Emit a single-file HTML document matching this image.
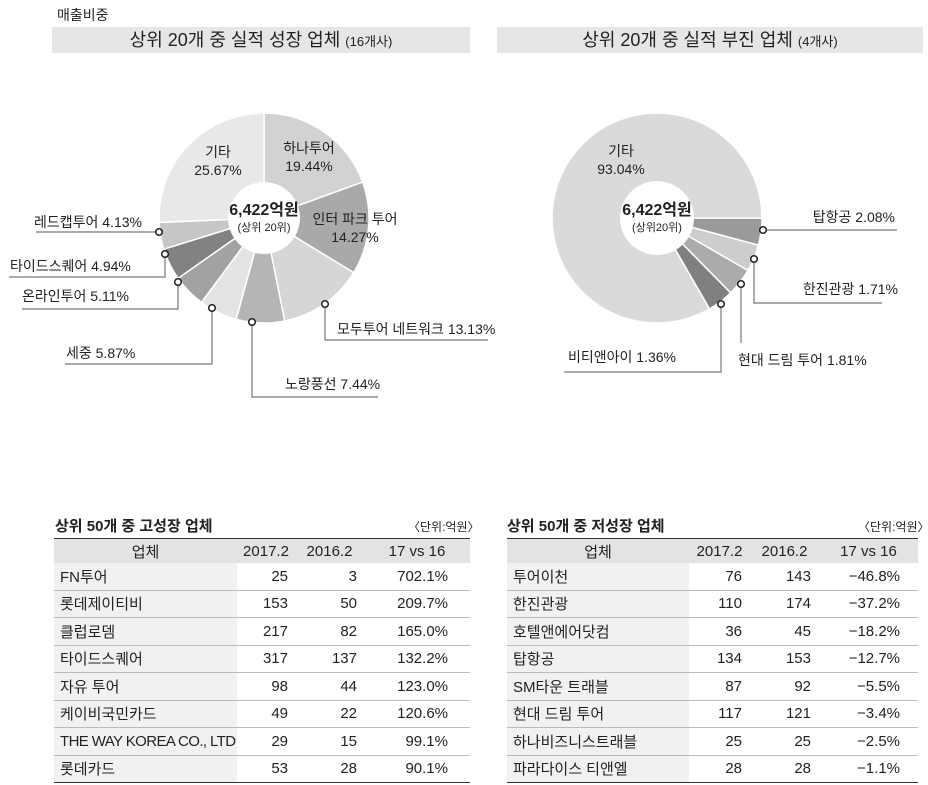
<!DOCTYPE html>
<html><head><meta charset="utf-8">
<style>
body{margin:0;width:928px;height:785px;background:#fff;font-family:"Liberation Sans","Noto Sans CJK KR",sans-serif;color:#222;position:relative;overflow:hidden}
.a{position:absolute;white-space:nowrap}
.bar{position:absolute;background:#e6e6e6;height:26px;top:27px;text-align:center;font-size:18px;line-height:26px;color:#222}
.bar small{font-size:13px}
table{position:absolute;border-collapse:collapse;font-size:15px;top:538px;table-layout:fixed}
td{height:26.5px;padding:0;border-bottom:1px solid #bbb;text-align:right;white-space:nowrap;overflow:visible}
tr.h td{background:#e3e3e3;text-align:center;height:24px;border-top:1.5px solid #333;border-bottom:none}
tr.last td{border-bottom:1.5px solid #333}
td.n{text-align:left;background:#f1f1f1;padding-left:6px}
.tt{position:absolute;font-size:15px;font-weight:bold;top:515px}
.u{position:absolute;font-size:12px;top:518px}
.L td:nth-child(2),.L td:nth-child(3){padding-right:7px}
.L td:nth-child(4){padding-right:22px}
.R td:nth-child(2),.R td:nth-child(3){padding-right:8px}
.R td:nth-child(4){padding-right:18px}
tr.h td{padding-right:0 !important}
</style></head><body>
<div class="a" style="left:57px;top:5px;font-size:14px">매출비중</div>
<div class="bar" style="left:52px;width:418px">상위 20개 중 실적 성장 업체 <small>(16개사)</small></div>
<div class="bar" style="left:497px;width:426px">상위 20개 중 실적 부진 업체 <small>(4개사)</small></div>

<svg id="s" width="928" height="420" style="position:absolute;left:0;top:0" font-family="Liberation Sans, Noto Sans CJK KR, sans-serif" font-size="14" fill="#222"></svg>

<div class="tt" style="left:55px">상위 50개 중 고성장 업체</div>
<div class="u" style="left:408px">〈단위:억원〉</div>
<table class="L" style="left:54px;width:416px">
<colgroup><col style="width:183px"><col style="width:58px"><col style="width:69px"><col style="width:106px"></colgroup>
<tr class="h"><td>업체</td><td>2017.2</td><td>2016.2</td><td>17 vs 16</td></tr>
<tr><td class="n">FN투어</td><td>25</td><td>3</td><td>702.1%</td></tr>
<tr><td class="n">롯데제이티비</td><td>153</td><td>50</td><td>209.7%</td></tr>
<tr><td class="n">클럽로뎀</td><td>217</td><td>82</td><td>165.0%</td></tr>
<tr><td class="n">타이드스퀘어</td><td>317</td><td>137</td><td>132.2%</td></tr>
<tr><td class="n">자유 투어</td><td>98</td><td>44</td><td>123.0%</td></tr>
<tr><td class="n">케이비국민카드</td><td>49</td><td>22</td><td>120.6%</td></tr>
<tr><td class="n" style="letter-spacing:-0.6px">THE WAY KOREA CO., LTD</td><td>29</td><td>15</td><td>99.1%</td></tr>
<tr class="last"><td class="n">롯데카드</td><td>53</td><td>28</td><td>90.1%</td></tr>
</table>

<div class="tt" style="left:507px">상위 50개 중 저성장 업체</div>
<div class="u" style="left:858px">〈단위:억원〉</div>
<table class="R" style="left:507px;width:411px">
<colgroup><col style="width:182px"><col style="width:61px"><col style="width:69px"><col style="width:99px"></colgroup>
<tr class="h"><td>업체</td><td>2017.2</td><td>2016.2</td><td>17 vs 16</td></tr>
<tr><td class="n">투어이천</td><td>76</td><td>143</td><td>−46.8%</td></tr>
<tr><td class="n">한진관광</td><td>110</td><td>174</td><td>−37.2%</td></tr>
<tr><td class="n">호텔앤에어닷컴</td><td>36</td><td>45</td><td>−18.2%</td></tr>
<tr><td class="n">탑항공</td><td>134</td><td>153</td><td>−12.7%</td></tr>
<tr><td class="n">SM타운 트래블</td><td>87</td><td>92</td><td>−5.5%</td></tr>
<tr><td class="n">현대 드림 투어</td><td>117</td><td>121</td><td>−3.4%</td></tr>
<tr><td class="n">하나비즈니스트래블</td><td>25</td><td>25</td><td>−2.5%</td></tr>
<tr class="last"><td class="n">파라다이스 티앤엘</td><td>28</td><td>28</td><td>−1.1%</td></tr>
</table>

<script>
var s=document.getElementById('s'),h='';
function arc(cx,cy,R,r,a0,a1,c){
 function p(rr,a){a=a*Math.PI/180;return [cx+rr*Math.sin(a),cy-rr*Math.cos(a)];}
 var L=(a1-a0)>180?1:0,A=p(R,a0),B=p(R,a1),C=p(r,a1),D=p(r,a0);
 h+='<path d="M'+A+'A'+R+','+R+' 0 '+L+' 1 '+B+'L'+C+'A'+r+','+r+' 0 '+L+' 0 '+D+'Z" fill="'+c+'" stroke="#fff" stroke-width="1.5"/>';
}
var L=[[19.44,'#d2d2d2'],[14.27,'#a9a9a9'],[13.13,'#d6d6d6'],[7.44,'#b5b5b5'],[5.87,'#e3e3e3'],[5.11,'#a2a2a2'],[4.94,'#828282'],[4.13,'#c6c6c6'],[25.67,'#e8e8e8']];
var a=0;L.forEach(function(d){var b=a+d[0]*3.6;arc(264,218,105,0,a,b,d[1]);a=b;});
h+='<circle cx="264" cy="218" r="36" fill="#fff"/>';
var R=[[15,'#9a9a9a'],[15,'#cdcdcd'],[15.5,'#ababab'],[14.5,'#808080']];
a=90;R.forEach(function(d){var b=a+d[0];arc(657,218,105,0,a,b,d[1]);a=b;});
arc(657,218,105,0,a,450,'#dadada');
h+='<circle cx="657" cy="218" r="37" fill="#fff"/>';
function ln(pts){h+='<polyline points="'+pts+'" fill="none" stroke="#777" stroke-width="1.2"/>';}
function dot(x,y){h+='<circle cx="'+x+'" cy="'+y+'" r="3.3" fill="#fff" stroke="#222" stroke-width="1.5"/>';}
function t(x,y,s,an,fs,fw){h+='<text x="'+x+'" y="'+y+'" text-anchor="'+(an||'start')+'"'+(fs?' font-size="'+fs+'"':'')+(fw?' font-weight="bold"':'')+'>'+s+'</text>';}
ln('159,232 36,232');dot(159,232);t(34,227,'레드캡투어 4.13%');
ln('165,254 165,277 9,277');dot(165,254);t(10,271,'타이드스퀘어 4.94%');
ln('178,282 178,309 22,309');dot(178,282);t(22,301,'온라인투어 5.11%');
ln('212,308 212,364 65,364');dot(212,308);t(66,358,'세중 5.87%');
ln('252,322 252,397 378,397');dot(252,322);t(285,389,'노랑풍선 7.44%');
ln('325,304 325,340 488,340');dot(325,304);t(337,334,'모두투어 네트워크 13.13%');
t(218,157,'기타','middle');t(218,175,'25.67%','middle');
t(309,153,'하나투어','middle');t(309,171,'19.44%','middle');
t(355,224,'인터 파크 투어','middle');t(355,242,'14.27%','middle');
t(264,215,'6,422억원','middle',16,1);t(264,231,'(상위 20위)','middle',11);
ln('763,230 897,230');dot(763,230);t(895,222,'탑항공  2.08%','end');
ln('754,259 754,303 882,303');dot(754,259);t(898,294,'한진관광 1.71%','end');
ln('741,284 741,343');dot(741,284);t(738,365,'현대 드림 투어 1.81%');
ln('721,304 721,372 564,372');dot(721,304);t(568,362,'비티앤아이 1.36%');
t(621,156,'기타','middle');t(621,174,'93.04%','middle');
t(657,215,'6,422억원','middle',16,1);t(657,231,'(상위20위)','middle',11);
s.innerHTML=h;
</script>
</body></html>
